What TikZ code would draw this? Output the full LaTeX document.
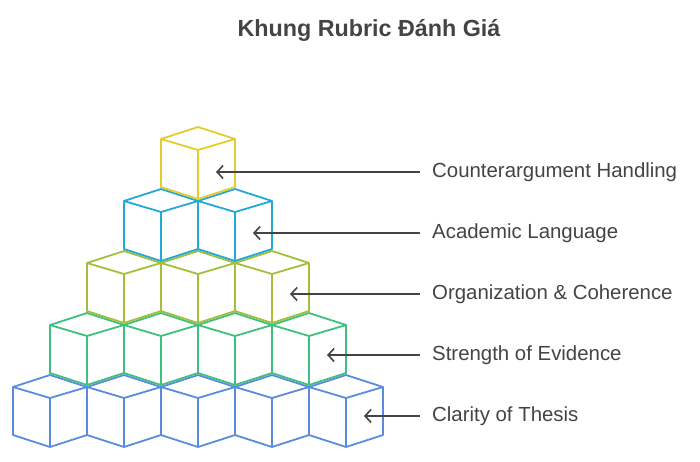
\documentclass[tikz,border=0pt]{standalone}
\usepackage{fontspec}
\setmainfont{Liberation Sans}
\usetikzlibrary{arrows.meta}
\definecolor{rowA}{HTML}{5B8BDD}
\definecolor{rowB}{HTML}{3DC17E}
\definecolor{rowC}{HTML}{A2BF3A}
\definecolor{rowD}{HTML}{22A9D6}
\definecolor{rowE}{HTML}{E3CD2C}
\definecolor{ink}{HTML}{444444}
\begin{document}
\begin{tikzpicture}[x=1pt, y=-1pt,
    cube/.style={line width=1.8pt, line join=round},
    pointer/.style={ink, line width=1.6pt, {Straight Barb[length=6pt,width=13pt]}-},
    label/.style={ink, anchor=west, font=\fontsize{20.4}{24}\selectfont, inner sep=0pt}
]
    \useasboundingbox (0,0) rectangle (700,461);
    \node[ink, font=\bfseries\fontsize{23.3}{27}\selectfont] (title) at (369,30) {Khung Rubric Đánh Giá};
    % cubes, row 0 at the bottom
    \foreach \r/\col in {0/rowA,1/rowB,2/rowC,3/rowD,4/rowE} {
        \pgfmathtruncatemacro{\n}{4-\r}
        \foreach \c in {0,...,\n} {
            \pgfmathsetmacro{\cx}{50+37*\r+74*\c}
            \pgfmathsetmacro{\cy}{375-62*\r}
            \draw[cube, \col] (\cx-37,\cy+12) -- (\cx,\cy) -- (\cx+37,\cy+12)
                -- (\cx+37,\cy+60) -- (\cx,\cy+72) -- (\cx-37,\cy+60) -- cycle
                (\cx-37,\cy+12) -- (\cx,\cy+23) -- (\cx+37,\cy+12)
                (\cx,\cy+23) -- (\cx,\cy+72);
        }
    }
    % labels and pointers
    \foreach \r/\txt in {0/Clarity of Thesis,1/Strength of Evidence,2/Organization \& Coherence,3/Academic Language,4/Counterargument Handling} {
        \node[label] (lab\r) at (432,416-61*\r) {\txt};
        \coordinate (tip\r) at (364-37*\r,416-61*\r);
        \draw[pointer] (tip\r) -- (420,416-61*\r);
    }
\end{tikzpicture}
\end{document}
